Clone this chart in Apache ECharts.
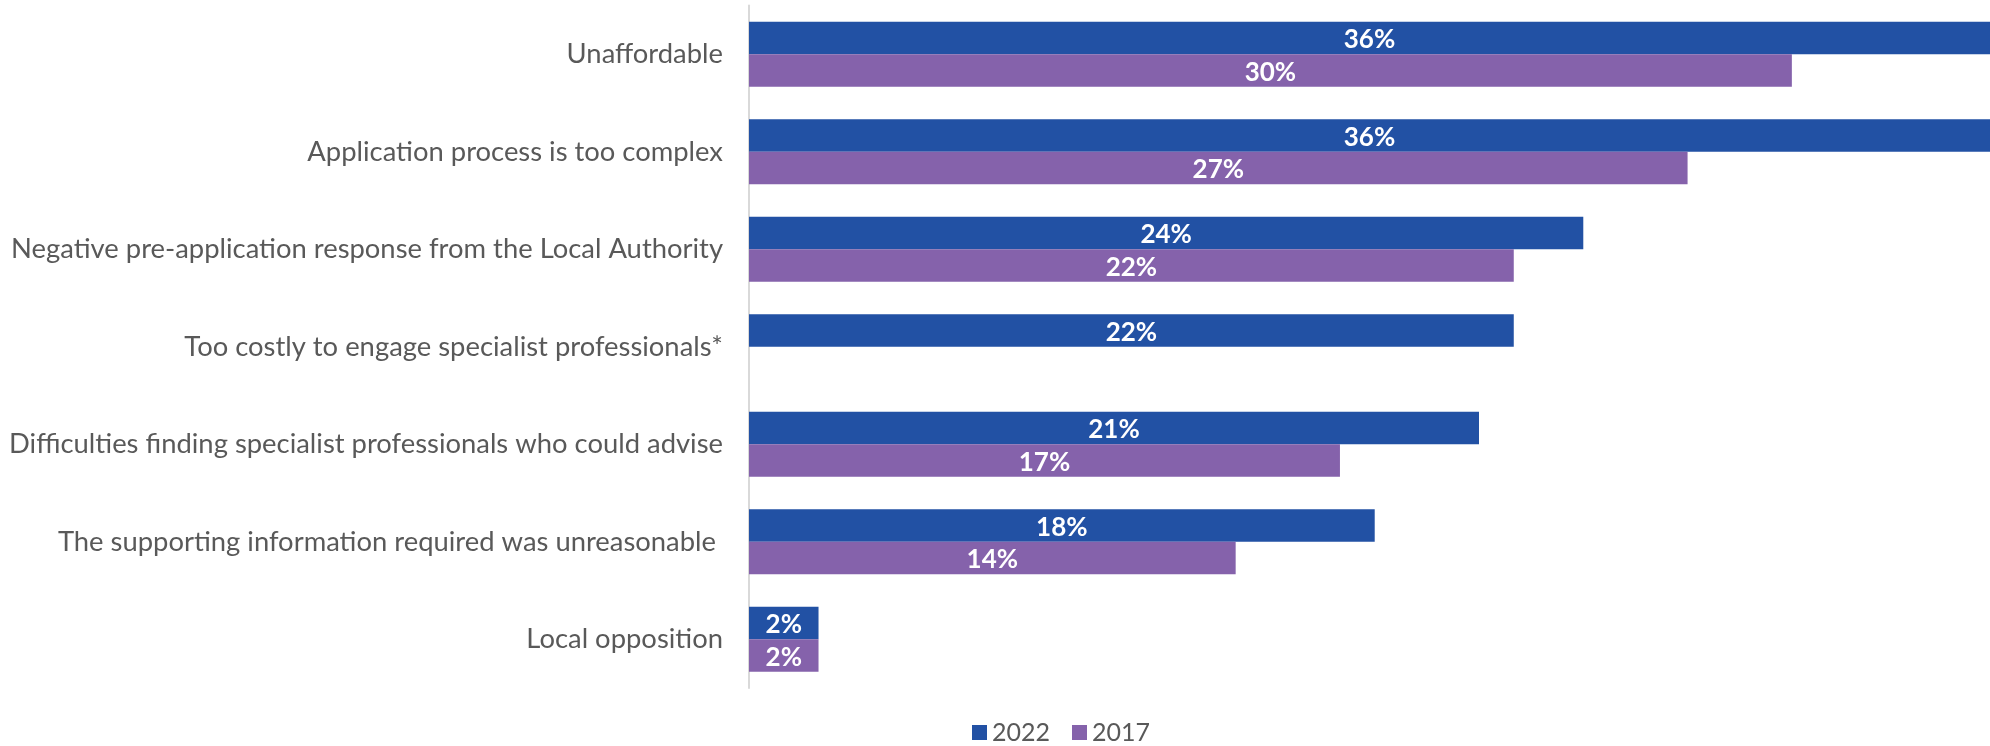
<!DOCTYPE html>
<html>
<head>
<meta charset="utf-8">
<title>Reasons for not applying</title>
<script src="https://cdn.jsdelivr.net/npm/echarts@6/dist/echarts.min.js"></script>
<style>
  html, body { margin: 0; padding: 0; background: #fff; }
  #chart { width: 1990px; height: 746px; }
</style>
</head>
<body>
<div id="chart"></div>
<script>
const categories = [
  'Unaffordable',
  'Application process is too complex',
  'Negative pre-application response from the Local Authority',
  'Too costly to engage specialist professionals*',
  'Difficulties finding specialist professionals who could advise',
  'The supporting information required was unreasonable ',
  'Local opposition',
];
const values2022 = [36, 36, 24, 22, 21, 18, 2];
const values2017 = [30, 27, 22, null, 17, 14, 2];

const FONT = 'Lato';
const TEXT = '#595959';

const labelOpt = {
  show: true,
  position: 'inside',
  offset: [0, 2],
  color: '#fff',
  fontFamily: FONT,
  fontWeight: 'bold',
  fontSize: 26,
  formatter: (p) => p.value + '%',
};

const option = {
  animation: false,
  grid: { left: 749, right: 0, top: 5.5, bottom: 58 },
  legend: {
    left: 967,
    bottom: -4,
    itemWidth: 15,
    itemHeight: 15,
    itemGap: 22,
    icon: 'rect',
    textStyle: { color: TEXT, fontFamily: FONT, fontSize: 25 },
    data: ['2022', '2017'],
  },
  xAxis: {
    type: 'value',
    min: 0,
    max: 35.7,
    show: false,
  },
  yAxis: {
    type: 'category',
    inverse: true,
    data: categories,
    axisLine: { show: true, lineStyle: { color: '#d9d9d9', width: 2 } },
    axisTick: { show: false },
    axisLabel: { color: TEXT, fontFamily: FONT, fontSize: 27.4, margin: 26 },
  },
  series: [
    {
      name: '2022',
      type: 'bar',
      data: values2022,
      barGap: '0%',
      barCategoryGap: '33.3%',
      itemStyle: { color: '#2251a4' },
      label: labelOpt,
    },
    {
      name: '2017',
      type: 'bar',
      data: values2017,
      itemStyle: { color: '#8562ab' },
      label: labelOpt,
    },
  ],
};

const myChart = echarts.init(document.getElementById('chart'));
myChart.setOption(option);
</script>
</body>
</html>
